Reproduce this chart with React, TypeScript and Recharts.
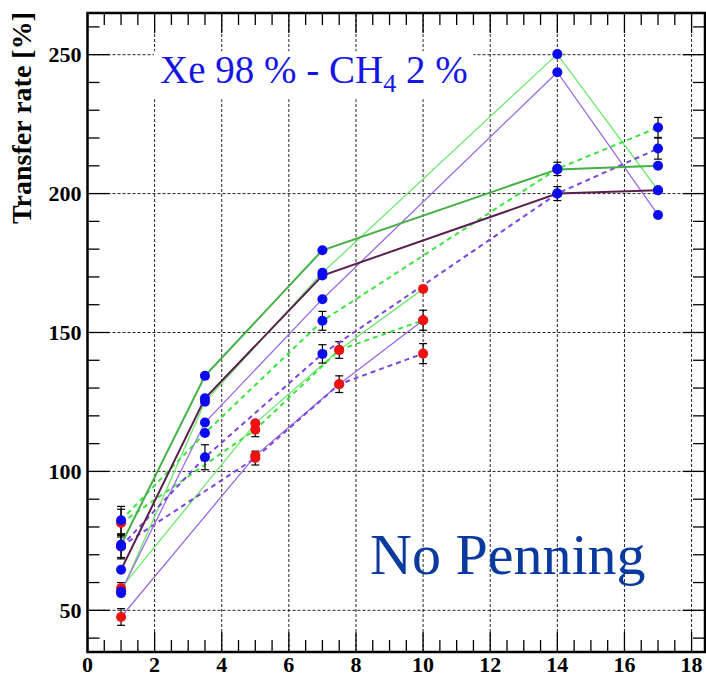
import React from 'react';
import { LineChart, Line, XAxis, YAxis, ReferenceLine, ReferenceArea, ErrorBar } from 'recharts';

// ---------- data ----------
const blueX = [1, 3.5, 7, 14, 17];
const redX = [1, 5, 7.5, 10];

const blueDarkGreen = [73.6, 134.4, 179.6, 208.7, 210.0];
const blueDarkPurple = [64.6, 126.3, 170.5, 200.0, 201.2];
const blueLightGreen = [56.2, 125.1, 171.5, 250.2, 201.2];
const blueLightPurple = [56.8, 117.6, 162.0, 243.7, 192.3];
const blueGreenDashed = [82.4, 113.8, 154.2, 208.9, 223.8];
const blueGreenDashedErr = [5, 0, 3.4, 2.4, 3.6];
const bluePurpleDashed = [73.0, 105.1, 142.3, 200.0, 216.2];
const bluePurpleDashedErr = [4.5, 4.5, 3.3, 2.5, 3.8];

const redLightGreen = [58.0, 117.3, 143.7, 165.7];
const redLightGreenErr = [2, 0, 0, 0];
const redGreenDashed = [81.4, 115.0, 143.7, 154.4];
const redGreenDashedErr = [5, 2.5, 3, 3.6];
const redLightPurple = [47.6, 105.6, 131.4, 154.4];
const redLightPurpleErr = [3, 0, 0, 0];
const redPurpleDashed = [73.0, 104.8, 131.4, 142.4];
const redPurpleDashedErr = [4, 2.5, 3, 3.6];

const xMajorTicks = [0, 2, 4, 6, 8, 10, 12, 14, 16, 18];
const yMajorTicks = [50, 100, 150, 200, 250];
const xDomain = [0, 18.4];
const yDomain = [35, 265];

const yTitle = 'Transfer rate [%]';
const noteText = 'No Penning';

// ---------- layout ----------
const W = 706;
const H = 679;
const PLOT_TOP = 13;
const PLOT_LEFT = 87.5;
const PLOT_RIGHT = 705;
const SERIF = "'Liberation Serif', 'Times New Roman', Times, serif";

const xAllTicks: number[] = [];
xMajorTicks.forEach((t, i) => {
  xAllTicks.push(t);
  if (i < xMajorTicks.length - 1) {
    xAllTicks.push(t + 0.5, t + 1, t + 1.5);
  }
});
const yAllTicks: number[] = [];
for (let v = 40; v <= 260; v += 10) yAllTicks.push(v);

const build = (xs: number[], ys: number[], errs?: number[]) =>
  xs.map((x, i) => ({ x, y: ys[i], e: errs ? errs[i] : 0 }));

const XTick = (props: any) => {
  const { x, y, payload } = props;
  const v = payload.value;
  const major = xMajorTicks.includes(v);
  const len = major ? 20 : 12;
  return (
    <g>
      <line x1={x} y1={y} x2={x} y2={y - len} stroke="#000" strokeWidth={1.3} />
      <line x1={x} y1={PLOT_TOP} x2={x} y2={PLOT_TOP + len} stroke="#000" strokeWidth={1.3} />
      {major && (
        <text x={x} y={y + 20} textAnchor="middle" style={{ fontFamily: SERIF, fontWeight: 'bold', fontSize: 22 }} fill="#000">
          {v}
        </text>
      )}
    </g>
  );
};

const YTick = (props: any) => {
  const { x, y, payload } = props;
  const v = payload.value;
  const major = yMajorTicks.includes(v);
  const len = major ? 22 : 12;
  return (
    <g>
      <line x1={x} y1={y} x2={x + len} y2={y} stroke="#000" strokeWidth={1.3} />
      <line x1={PLOT_RIGHT - len} y1={y} x2={PLOT_RIGHT} y2={y} stroke="#000" strokeWidth={1.3} />
      {major && (
        <text x={x - 6} y={y} dy="0.35em" textAnchor="end" style={{ fontFamily: SERIF, fontWeight: 'bold', fontSize: 22 }} fill="#000">
          {v}
        </text>
      )}
    </g>
  );
};

const C_DARK_GREEN = '#45b045';
const C_DARK_PURPLE = '#5a1f4e';
const C_LIGHT_GREEN = '#6fe86f';
const C_LIGHT_PURPLE = '#9a6ae0';
const C_GREEN_DASH = '#3fe33f';
const C_PURPLE_DASH = '#7a45e0';
const BLUE = '#0a0af0';
const RED = '#f01010';

type S = { data: any[]; color: string; width: number; dash?: string; dot: string };

const series: S[] = [
  { data: build(redX, redLightGreen, redLightGreenErr), color: C_LIGHT_GREEN, width: 1.3, dot: RED },
  { data: build(redX, redGreenDashed, redGreenDashedErr), color: C_GREEN_DASH, width: 2, dash: '5 4', dot: RED },
  { data: build(redX, redLightPurple, redLightPurpleErr), color: C_LIGHT_PURPLE, width: 1.3, dot: RED },
  { data: build(redX, redPurpleDashed, redPurpleDashedErr), color: C_PURPLE_DASH, width: 2, dash: '5 4', dot: RED },
  { data: build(blueX, blueLightGreen), color: C_LIGHT_GREEN, width: 1.3, dot: BLUE },
  { data: build(blueX, blueLightPurple), color: C_LIGHT_PURPLE, width: 1.3, dot: BLUE },
  { data: build(blueX, blueGreenDashed, blueGreenDashedErr), color: C_GREEN_DASH, width: 2, dash: '5 4', dot: BLUE },
  { data: build(blueX, bluePurpleDashed, bluePurpleDashedErr), color: C_PURPLE_DASH, width: 2, dash: '5 4', dot: BLUE },
  { data: build(blueX, blueDarkPurple), color: C_DARK_PURPLE, width: 2, dot: BLUE },
  { data: build(blueX, blueDarkGreen), color: C_DARK_GREEN, width: 2, dot: BLUE },
];

export default function App() {
  return (
    <div style={{ position: 'absolute', left: 0, top: 0, width: W, height: H, background: '#fff' }}>
      <LineChart width={W} height={H} margin={{ top: PLOT_TOP, right: W - PLOT_RIGHT, bottom: 0, left: 0 }}>
        <XAxis
          type="number"
          dataKey="x"
          domain={xDomain}
          ticks={xAllTicks}
          interval={0}
          allowDataOverflow
          tick={<XTick />}
          tickLine={false}
          axisLine={false}
          tickSize={0}
          tickMargin={0}
          height={27}
        />
        <YAxis
          type="number"
          dataKey="y"
          domain={yDomain}
          ticks={yAllTicks}
          interval={0}
          allowDataOverflow
          tick={<YTick />}
          tickLine={false}
          axisLine={false}
          tickSize={0}
          tickMargin={0}
          width={PLOT_LEFT}
        />
        {xMajorTicks.filter((t) => t > 0).map((t) => (
          <ReferenceLine key={'gx' + t} x={t} stroke="#222" strokeWidth={1} strokeDasharray="3 2" zIndex={-10} />
        ))}
        {yMajorTicks.map((t) => (
          <ReferenceLine key={'gy' + t} y={t} stroke="#222" strokeWidth={1} strokeDasharray="3 2" zIndex={-10} />
        ))}
        <ReferenceArea x1={1.98} x2={11.5} y1={234} y2={251.2} fill="#fff" fillOpacity={1} stroke="none" zIndex={-5} />
        {series.map((s, i) => (
          <Line
            key={'s' + i}
            data={s.data}
            dataKey="y"
            type="linear"
            stroke={s.color}
            strokeWidth={s.width}
            strokeDasharray={s.dash}
            dot={{ r: 5, fill: s.dot, stroke: 'none', strokeWidth: 0 }}
            activeDot={false}
            isAnimationActive={false}
          >
            <ErrorBar dataKey="e" width={4} stroke="#000" strokeWidth={1.2} direction="y" />
          </Line>
        ))}
        <ReferenceArea x1={0} x2={18.4} y1={35} y2={265} fill="none" stroke="#000" strokeWidth={2.5} zIndex={900} />
        <text x={21} y={118} transform="rotate(-90 21 118)" textAnchor="middle" dominantBaseline="central" style={{ fontFamily: SERIF, fontWeight: 'bold', fontSize: 28 }} fill="#000">
          {yTitle}
        </text>
        <text x={160} y={83} style={{ fontFamily: SERIF, fontSize: 39 }} fill="#1515e6">
          Xe 98 % - CH
          <tspan style={{ fontSize: 26 }} dy={9}>4</tspan>
          <tspan dy={-9}> 2 %</tspan>
        </text>
        <text x={370} y={574} style={{ fontFamily: SERIF, fontSize: 58 }} fill="#0a3a9e">
          {noteText}
        </text>
      </LineChart>
    </div>
  );
}
